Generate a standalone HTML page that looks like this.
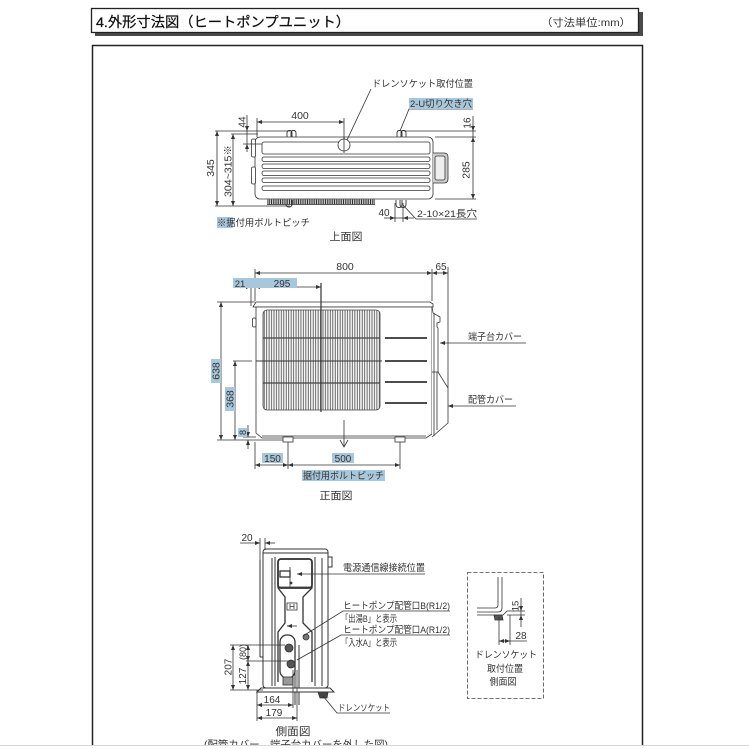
<!DOCTYPE html>
<html>
<head>
<meta charset="utf-8">
<style>
html,body{margin:0;padding:0;background:#fff;}
svg{display:block;}
text{font-family:"Liberation Sans","Noto Sans CJK JP",sans-serif;fill:#333;}
</style>
</head>
<body>
<svg width="749" height="749" viewBox="0 0 749 749" xmlns="http://www.w3.org/2000/svg">
<defs>
  <marker id="a" markerWidth="5" markerHeight="4" refX="5" refY="2" orient="auto-start-reverse" markerUnits="userSpaceOnUse">
    <path d="M0,0 L5,2 L0,4 z" fill="#333"/>
  </marker>
  <pattern id="vg" x="263" y="0" width="2.45" height="10" patternUnits="userSpaceOnUse">
    <line x1="1.2" y1="0" x2="1.2" y2="10" stroke="#444" stroke-width="0.85"/>
  </pattern>
  <pattern id="fin" x="267" y="0" width="1.8" height="10" patternUnits="userSpaceOnUse">
    <line x1="0.9" y1="0" x2="0.9" y2="10" stroke="#222" stroke-width="1"/>
  </pattern>
</defs>

<!-- Header -->
<rect x="95" y="12" width="548" height="24" fill="#4a4a4a"/>
<rect x="91.5" y="8.5" width="547" height="24" fill="#fff" stroke="#222" stroke-width="1.3"/>
<text x="96" y="27" font-size="14" textLength="254" lengthAdjust="spacingAndGlyphs" style="fill:#111;stroke:#111;stroke-width:0.25">4.外形寸法図（ヒートポンプユニット）</text>
<text x="541" y="26" font-size="10.5" textLength="90" lengthAdjust="spacingAndGlyphs">（寸法単位:mm）</text>

<!-- Main box -->
<rect x="92.5" y="45.5" width="550" height="720" fill="none" stroke="#222" stroke-width="1.5"/>

<g fill="none" stroke="#333" stroke-width="0.8">

<!-- ================= TOP VIEW ================= -->
<rect x="255" y="137" width="178" height="62" rx="5" fill="#fff"/>
<rect x="262" y="142" width="168" height="12" rx="2"/>
<rect x="262" y="157" width="168" height="4.5" rx="2"/>
<rect x="262" y="164" width="168" height="4.5" rx="2"/>
<rect x="262" y="171" width="168" height="4.5" rx="2"/>
<rect x="262" y="178" width="168" height="4.5" rx="2"/>
<rect x="262" y="186" width="168" height="4.5" rx="2"/>
<rect x="251.5" y="139" width="4" height="18" rx="1.5" fill="#fff"/>
<rect x="251.5" y="167" width="4" height="17" rx="1.5" fill="#fff"/>
<path d="M433,153 H444 Q448,153 448,157 V179 Q448,183 444,183 H433" fill="#cfcfcf"/>
<rect x="435" y="156" width="10" height="24" rx="2" fill="#eee"/>
<rect x="267" y="199.5" width="108" height="5" fill="url(#fin)" stroke="none"/>
<line x1="267" y1="204.5" x2="375" y2="204.5"/>
<path d="M287,137 V133 Q287,130.5 289.5,130.5 Q292,130.5 292,133 V137 M291,137 V133 Q291,130.5 293.5,130.5 Q296,130.5 296,133 V137" stroke-width="0.9"/>
<path d="M397,137 V133 Q397,130.5 399.5,130.5 Q402,130.5 402,133 V137 M401,137 V133 Q401,130.5 403.5,130.5 Q406,130.5 406,133 V137" stroke-width="0.9"/>
<path d="M286,200 V204 Q286,207 289,207 Q292,207 292,204 V200" stroke-width="0.9"/>
<path d="M396,200 V204 Q396,207.5 399,207.5 Q402,207.5 402,204 V200 M400,200 V204 Q400,207.5 403,207.5 Q406,207.5 406,204 V200" stroke-width="0.9"/>
<circle cx="344" cy="145" r="6" fill="#fff"/>
<line x1="344" y1="137" x2="344" y2="153"/>

<line x1="215" y1="131" x2="290" y2="131"/>
<line x1="215" y1="206" x2="290" y2="206"/>
<line x1="217" y1="131" x2="217" y2="206" marker-start="url(#a)" marker-end="url(#a)"/>
<line x1="231" y1="134" x2="258" y2="134"/>
<line x1="233" y1="134" x2="233" y2="206" marker-start="url(#a)" marker-end="url(#a)"/>
<line x1="247" y1="115" x2="247" y2="131" marker-end="url(#a)"/>
<line x1="247" y1="131" x2="247" y2="144"/>
<line x1="247" y1="152" x2="247" y2="144" marker-end="url(#a)"/>
<line x1="243" y1="144" x2="262" y2="144"/>
<line x1="257" y1="118" x2="257" y2="137"/>
<line x1="344" y1="118" x2="344" y2="139"/>
<line x1="257" y1="122" x2="344" y2="122" marker-start="url(#a)" marker-end="url(#a)"/>
<line x1="404" y1="131" x2="476" y2="131"/>
<line x1="435" y1="137" x2="476" y2="137"/>
<line x1="435" y1="199" x2="476" y2="199"/>
<line x1="473" y1="116" x2="473" y2="131" marker-end="url(#a)"/>
<line x1="473" y1="131" x2="473" y2="137"/>
<line x1="473" y1="137" x2="473" y2="199" marker-start="url(#a)" marker-end="url(#a)"/>
<line x1="395" y1="203" x2="395" y2="222"/>
<line x1="403" y1="203" x2="403" y2="222"/>
<line x1="384" y1="218" x2="395" y2="218" marker-end="url(#a)"/>
<line x1="395" y1="218" x2="403" y2="218"/>
<line x1="414" y1="218" x2="403" y2="218" marker-end="url(#a)"/>
<polyline points="347,140 371,89"/>
<polyline points="400,131 409,109 473,109"/>
<polyline points="403,205 416,219 477,219"/>

<!-- ================= FRONT VIEW ================= -->
<polygon points="253,307 256,302 430,302 433,304 433,307" fill="#fff"/>
<polygon points="256,307 432,307 432,434 426,438 262,438 256,433" fill="#fff"/>
<line x1="262" y1="436" x2="426" y2="436"/>
<rect x="252.5" y="318" width="3.5" height="9" rx="1.5" fill="#fff"/>
<rect x="263" y="310" width="117" height="100" rx="4" fill="url(#vg)" stroke="#444"/>
<line x1="263" y1="338" x2="380" y2="338" stroke="#444" stroke-width="1.2"/>
<line x1="263" y1="383" x2="380" y2="383" stroke="#444" stroke-width="1.2"/>
<line x1="233" y1="361" x2="252" y2="361"/>
<line x1="256" y1="361" x2="382" y2="361" stroke-width="1"/>
<line x1="321" y1="283" x2="321" y2="412" stroke-width="1.2"/>
<g stroke="#333" stroke-width="1.8">
<line x1="385" y1="338" x2="427" y2="338"/>
<line x1="385" y1="361" x2="427" y2="361"/>
<line x1="385" y1="382" x2="427" y2="382"/>
<line x1="385" y1="403" x2="427" y2="403"/>
</g>
<path d="M432,307 L433,313 L440,317 L440,322 L437,323 L437,327 L438,328 L438,372 L448,388 L448,423 L432,437" fill="#fff"/>
<line x1="434" y1="313" x2="434" y2="436"/>
<line x1="437" y1="372" x2="437" y2="430"/>
<line x1="432" y1="372" x2="438" y2="372"/>
<rect x="283" y="437" width="10" height="5" fill="#fff"/>
<rect x="395" y="437" width="10" height="5" fill="#fff"/>
<line x1="344" y1="420" x2="344" y2="447"/>
<polyline points="340,440 344,447 348,440"/>
<line x1="255" y1="269" x2="255" y2="301"/>
<line x1="432" y1="269" x2="432" y2="301"/>
<line x1="448" y1="267" x2="448" y2="388"/>
<line x1="255" y1="273" x2="432" y2="273" marker-start="url(#a)" marker-end="url(#a)"/>
<line x1="432" y1="273" x2="448" y2="273" marker-start="url(#a)" marker-end="url(#a)"/>
<line x1="251" y1="280" x2="251" y2="306"/>
<line x1="240" y1="287" x2="251" y2="287" marker-end="url(#a)"/>
<line x1="255" y1="287" x2="321" y2="287" marker-start="url(#a)" marker-end="url(#a)"/>
<line x1="217" y1="302" x2="255" y2="302"/>
<line x1="217" y1="440" x2="283" y2="440"/>
<line x1="221" y1="302" x2="221" y2="440" marker-start="url(#a)" marker-end="url(#a)"/>
<line x1="235" y1="361" x2="235" y2="440" marker-start="url(#a)" marker-end="url(#a)"/>
<line x1="243" y1="437" x2="256" y2="437"/>
<line x1="248" y1="425" x2="248" y2="437" marker-end="url(#a)"/>
<line x1="248" y1="449" x2="248" y2="440" marker-end="url(#a)"/>
<line x1="255" y1="442" x2="255" y2="469"/>
<line x1="288" y1="442" x2="288" y2="469"/>
<line x1="400" y1="442" x2="400" y2="469"/>
<line x1="255" y1="465" x2="288" y2="465" marker-start="url(#a)" marker-end="url(#a)"/>
<line x1="288" y1="465" x2="400" y2="465" marker-start="url(#a)" marker-end="url(#a)"/>
<line x1="526" y1="343" x2="440" y2="343" marker-end="url(#a)"/>
<line x1="516" y1="406" x2="448" y2="406" marker-end="url(#a)"/>

<!-- ================= SIDE VIEW ================= -->
<g stroke-width="1">
<rect x="263" y="549" width="65" height="139" rx="3" fill="#fff"/>
<line x1="263" y1="553" x2="328" y2="553"/>
<rect x="328" y="557" width="4" height="10" fill="#fff"/>
<line x1="260" y1="560" x2="260" y2="657"/>
<line x1="260" y1="657" x2="263" y2="657"/>
<line x1="272" y1="558" x2="272" y2="686"/>
<line x1="322" y1="558" x2="322" y2="686"/>
<line x1="275" y1="557" x2="275" y2="686"/>
<line x1="315" y1="557" x2="315" y2="686"/>
</g>
<path d="M278,588 V562 Q278,559 281,559 H309 Q312,559 312,562 V588 L303,597 V623 L312,632 V682 M278,588 L285,597 V623 L278,632 V682" stroke-width="1.3"/>
<rect x="278" y="559" width="34" height="29" rx="3" stroke-width="1.7"/>
<rect x="280" y="571" width="10" height="6" stroke-width="1.3"/>
<line x1="278" y1="587" x2="312" y2="587"/>
<line x1="290" y1="567" x2="290" y2="587"/>
<circle cx="291" cy="583" r="1" fill="#333"/>
<rect x="287" y="603" width="10" height="7"/>
<path d="M290,604 V609 M294,604 V609 M290,606.5 H294"/>
<line x1="297" y1="626" x2="287" y2="626" marker-end="url(#a)"/>
<rect x="280" y="635" width="15" height="43" rx="7" stroke-width="1.3"/>
<circle cx="289" cy="648" r="4" fill="#555"/>
<circle cx="291" cy="664" r="4" fill="#555"/>
<line x1="295" y1="645" x2="295" y2="705" stroke-width="1"/>
<line x1="299" y1="645" x2="299" y2="705" stroke-width="1"/>
<circle cx="306" cy="637" r="3" fill="#777"/>
<rect x="283" y="677" width="10" height="8" fill="#999"/>
<path d="M257,692 L261,688 L330,688 L334,692 Z" fill="#fff" stroke-width="1"/>
<path d="M318,692 L328,692 L327,698 L320,698 Z" fill="#444"/>
<line x1="265" y1="538" x2="265" y2="550"/>
<line x1="260" y1="538" x2="260" y2="560"/>
<line x1="240" y1="543" x2="260" y2="543" marker-end="url(#a)"/>
<line x1="275" y1="543" x2="265" y2="543" marker-end="url(#a)"/>
<line x1="230" y1="645" x2="285" y2="645"/>
<line x1="246" y1="661" x2="290" y2="661"/>
<line x1="230" y1="690" x2="263" y2="690"/>
<line x1="233" y1="645" x2="233" y2="690" marker-start="url(#a)" marker-end="url(#a)"/>
<line x1="248" y1="645" x2="248" y2="661" marker-start="url(#a)" marker-end="url(#a)"/>
<line x1="248" y1="661" x2="248" y2="690" marker-start="url(#a)" marker-end="url(#a)"/>
<line x1="257" y1="690" x2="257" y2="721"/>
<line x1="293" y1="670" x2="293" y2="708"/>
<line x1="297" y1="670" x2="297" y2="721"/>
<line x1="257" y1="705" x2="293" y2="705" marker-start="url(#a)" marker-end="url(#a)"/>
<line x1="257" y1="718" x2="297" y2="718" marker-start="url(#a)" marker-end="url(#a)"/>
<line x1="425" y1="574" x2="297" y2="574" marker-end="url(#a)"/>
<polyline points="450,611 343,611 303,636"/>
<polyline points="450,635 341,635 297,660"/>
<polyline points="390,713 337,713 323,696"/>

<!-- ================= INSET ================= -->
<rect x="467.5" y="572.5" width="76" height="126" stroke="#444" stroke-dasharray="4,2"/>
<path d="M498,577 V605 Q498,608 495,608 H477"/>
<path d="M502,577 V608 Q502,612 498,612 H477"/>
<path d="M477,615 H503 L507,611 H525"/>
<line x1="507" y1="615" x2="525" y2="615"/>
<path d="M494,615 L502,615 L503,620 L495,620 Z" fill="#555"/>
<line x1="521" y1="598" x2="521" y2="611" marker-end="url(#a)"/>
<line x1="521" y1="611" x2="521" y2="615"/>
<line x1="521" y1="627" x2="521" y2="615" marker-end="url(#a)"/>
<line x1="499" y1="617" x2="499" y2="645"/>
<line x1="510" y1="615" x2="510" y2="645"/>
<line x1="499" y1="641" x2="510" y2="641" marker-start="url(#a)" marker-end="url(#a)"/>
<line x1="510" y1="641" x2="527" y2="641"/>
</g>

<!-- highlights -->
<g fill="#a7c7dc" stroke="none">
<rect x="409" y="98" width="64" height="11"/>
<rect x="217" y="217" width="16" height="11"/>
<rect x="233" y="278" width="64" height="10"/>
<rect x="211" y="359" width="10" height="24"/>
<rect x="225" y="387" width="10" height="24"/>
<rect x="238" y="428" width="9" height="9"/>
<rect x="262" y="453" width="21" height="10"/>
<rect x="332" y="453" width="22" height="10"/>
<rect x="302" y="470" width="83" height="11"/>
</g>

<!-- TOP VIEW TEXT -->
<text x="372" y="87" font-size="9.5" textLength="101" lengthAdjust="spacingAndGlyphs">ドレンソケット取付位置</text>
<text x="410" y="107" font-size="9.5" textLength="62" lengthAdjust="spacingAndGlyphs">2-U切り欠き穴</text>
<text x="300" y="119" font-size="10.5" text-anchor="middle">400</text>
<text transform="rotate(-90 214 168)" x="214" y="168" font-size="10.5" text-anchor="middle">345</text>
<text transform="rotate(-90 231.5 171)" x="231.5" y="171" font-size="10" text-anchor="middle" textLength="52" lengthAdjust="spacingAndGlyphs">304~315※</text>
<text transform="rotate(-90 245.5 122)" x="245.5" y="122" font-size="10" text-anchor="middle">44</text>
<text transform="rotate(-90 470.5 123)" x="470.5" y="123" font-size="10" text-anchor="middle">16</text>
<text transform="rotate(-90 469.5 170)" x="469.5" y="170" font-size="10.5" text-anchor="middle">285</text>
<text x="384" y="216" font-size="10" text-anchor="middle">40</text>
<text x="417" y="217" font-size="9.5" textLength="60" lengthAdjust="spacingAndGlyphs">2-10×21長穴</text>
<text x="217" y="226" font-size="9.5" textLength="93" lengthAdjust="spacingAndGlyphs">※据付用ボルトピッチ</text>
<text x="346" y="240" font-size="10.5" text-anchor="middle" textLength="33" lengthAdjust="spacingAndGlyphs">上面図</text>

<!-- FRONT VIEW TEXT -->
<text x="345" y="270" font-size="10.5" text-anchor="middle">800</text>
<text x="441" y="270" font-size="10" text-anchor="middle">65</text>
<text x="240" y="287" font-size="9.5" text-anchor="middle">21</text>
<text x="282" y="287" font-size="10" text-anchor="middle">295</text>
<text transform="rotate(-90 219.5 371)" x="219.5" y="371" font-size="10.5" text-anchor="middle">638</text>
<text transform="rotate(-90 233.5 399)" x="233.5" y="399" font-size="10.5" text-anchor="middle">368</text>
<text transform="rotate(-90 246 432.5)" x="246" y="432.5" font-size="9" text-anchor="middle">8</text>
<text x="272.5" y="462" font-size="10" text-anchor="middle">150</text>
<text x="343" y="462" font-size="10" text-anchor="middle">500</text>
<text x="303" y="479" font-size="9.5" textLength="81" lengthAdjust="spacingAndGlyphs">据付用ボルトピッチ</text>
<text x="468" y="340" font-size="9.5" textLength="54" lengthAdjust="spacingAndGlyphs">端子台カバー</text>
<text x="468" y="403" font-size="9.5" textLength="45" lengthAdjust="spacingAndGlyphs">配管カバー</text>
<text x="336" y="499" font-size="10.5" text-anchor="middle" textLength="33" lengthAdjust="spacingAndGlyphs">正面図</text>

<!-- SIDE VIEW TEXT -->
<text x="247" y="541" font-size="10" text-anchor="middle">20</text>
<text x="343" y="571" font-size="9.5" textLength="82" lengthAdjust="spacingAndGlyphs">電源通信線接続位置</text>
<text x="343" y="609" font-size="9.5" textLength="107" lengthAdjust="spacingAndGlyphs">ヒートポンプ配管口B(R1/2)</text>
<text x="341" y="622" font-size="9.5" textLength="56" lengthAdjust="spacingAndGlyphs">「出湯B」と表示</text>
<text x="343" y="633" font-size="9.5" textLength="107" lengthAdjust="spacingAndGlyphs">ヒートポンプ配管口A(R1/2)</text>
<text x="341" y="646" font-size="9.5" textLength="56" lengthAdjust="spacingAndGlyphs">「入水A」と表示</text>
<text transform="rotate(-90 231.5 667)" x="231.5" y="667" font-size="10" text-anchor="middle">207</text>
<text transform="rotate(-90 246 652)" x="246" y="652" font-size="9" text-anchor="middle">(80)</text>
<text transform="rotate(-90 246 676)" x="246" y="676" font-size="10" text-anchor="middle">127</text>
<text x="272" y="703" font-size="10" text-anchor="middle">164</text>
<text x="274" y="716" font-size="10" text-anchor="middle">179</text>
<text x="338" y="711" font-size="9" textLength="52" lengthAdjust="spacingAndGlyphs">ドレンソケット</text>
<text x="293" y="735" font-size="11" text-anchor="middle" textLength="35" lengthAdjust="spacingAndGlyphs">側面図</text>
<text x="296" y="748" font-size="10.5" text-anchor="middle" textLength="184" lengthAdjust="spacingAndGlyphs">(配管カバー、端子台カバーを外した図)</text>

<!-- INSET TEXT -->
<text transform="rotate(-90 518.5 606)" x="518.5" y="606" font-size="9.5" text-anchor="middle">15</text>
<text x="521" y="639" font-size="10" text-anchor="middle">28</text>
<text x="506" y="658" font-size="9.5" text-anchor="middle" textLength="62" lengthAdjust="spacingAndGlyphs">ドレンソケット</text>
<text x="505" y="672" font-size="9.5" text-anchor="middle" textLength="36" lengthAdjust="spacingAndGlyphs">取付位置</text>
<text x="503" y="685" font-size="9.5" text-anchor="middle" textLength="27" lengthAdjust="spacingAndGlyphs">側面図</text>

<!-- bottom cut -->
<rect x="0" y="745" width="749" height="4" fill="#fff"/>
<line x1="0" y1="745.5" x2="749" y2="745.5" stroke="#d8d8d8" stroke-width="1"/>
</svg>
</body>
</html>
